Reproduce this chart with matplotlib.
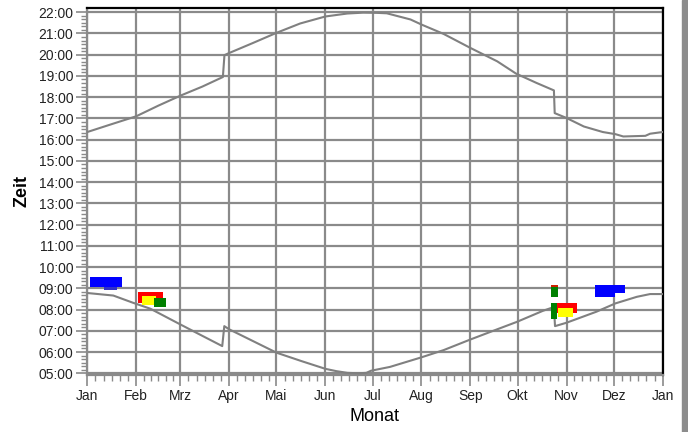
import numpy as np
import matplotlib
matplotlib.use('Agg')
import matplotlib.pyplot as plt
from matplotlib.patches import Rectangle

plt.rcParams['font.family'] = ['Liberation Sans', 'DejaVu Sans']

# month starts (day of year) and labels
month_days = [0, 31, 59, 90, 120, 151, 181, 212, 243, 273, 304, 334, 365]
month_labels = ['Jan', 'Feb', 'Mrz', 'Apr', 'Mai', 'Jun', 'Jul', 'Aug',
                'Sep', 'Okt', 'Nov', 'Dez', 'Jan']
hours = list(range(5, 23))

# sunset (upper curve), hours
sunset_day = [0, 15, 31, 45, 59, 73, 86, 87, 90, 105, 120, 135, 151, 165, 175,
              184, 190, 205, 212, 226, 243, 260, 272, 285, 296, 296.5, 304,
              315, 327, 335, 340, 354, 357, 365]
sunset_time = [16.36, 16.72, 17.10, 17.60, 18.07, 18.50, 18.95, 19.98, 20.08,
               20.55, 21.03, 21.47, 21.80, 21.94, 21.98, 21.97, 21.95, 21.66,
               21.42, 20.98, 20.32, 19.69, 19.11, 18.67, 18.32, 17.25, 17.02,
               16.62, 16.36, 16.26, 16.15, 16.18, 16.28, 16.36]

# sunrise (lower curve), hours
sunrise_day = [0, 16.5, 29, 40, 59, 72, 85.6, 86.9, 90, 105, 120, 136, 151,
               158, 165, 172, 177, 180, 192, 211.5, 226, 243, 260, 272.5, 289,
               296, 296.7, 304, 323, 335, 348.6, 357, 365]
sunrise_time = [8.78, 8.66, 8.32, 8.04, 7.30, 6.80, 6.28, 7.22, 7.07, 6.52,
                5.97, 5.57, 5.21, 5.10, 5.02, 5.00, 5.02, 5.12, 5.30, 5.74,
                6.09, 6.59, 7.07, 7.42, 7.94, 8.12, 7.22, 7.38, 7.90, 8.29,
                8.60, 8.73, 8.73]

# observation blocks: (day start, day end, time bottom, time top, colour)
block_d0 = [1.7, 10.6, 32.4, 34.9, 42.3, 294.0, 294.0, 294.0, 294.0, 298.9, 322.1, 335.0]
block_d1 = [22.1, 19.0, 48.2, 43.4, 49.7, 298.9, 298.9, 310.5, 297.8, 308.4, 335.0, 341.2]
block_t0 = [9.05, 8.91, 8.31, 8.23, 8.10, 9.08, 8.58, 7.85, 7.54, 7.66, 8.58, 8.77]
block_t1 = [9.52, 9.05, 8.83, 8.62, 8.54, 9.16, 9.08, 8.29, 8.29, 8.06, 9.16, 9.16]
block_col = ['#0000ff', '#3030c8', '#ff0000', '#ffff00', '#008000', '#cc2200',
             '#008000', '#ff0000', '#008000', '#ffff00', '#0000ff', '#0000ff']

fig = plt.figure(figsize=(6.88, 4.32), dpi=100)
ax = fig.add_axes([0.1269, 0.132, 0.8363, 0.8495])

grid_col = '#8a8a8a'
ax.set_xlim(0, 365)
ax.set_ylim(4.92, 22.2)
ax.set_xticks(month_days)
ax.set_xticklabels(month_labels, fontsize=10)
ax.set_yticks(hours)
ax.set_yticklabels(['%02d:00' % h for h in hours], fontsize=10)

minor_x = []
for i in range(12):
    step = (month_days[i + 1] - month_days[i]) / 6.0
    minor_x += [month_days[i] + k * step for k in range(1, 6)]
ax.set_xticks(minor_x, minor=True)
ax.set_yticks(np.arange(5, 22.01, 1 / 6.0), minor=True)

ax.tick_params(which='major', direction='out', length=8, width=1.2, color=grid_col)
ax.tick_params(which='minor', direction='out', length=4, width=1.0, color=grid_col)
ax.tick_params(axis='both', pad=2, labelcolor='#222222')

ax.grid(True, which='major', color=grid_col, lw=1.6)
ax.set_axisbelow(True)

for s in ['left', 'bottom']:
    ax.spines[s].set_color(grid_col)
    ax.spines[s].set_linewidth(1.6)
for s in ['top', 'right']:
    ax.spines[s].set_color('black')
    ax.spines[s].set_linewidth(1.6)

ax.plot(sunset_day, sunset_time, color='#808080', lw=1.5, zorder=3)
ax.plot(sunrise_day, sunrise_time, color='#808080', lw=1.5, zorder=3)

for d0, d1, t0, t1, c in zip(block_d0, block_d1, block_t0, block_t1, block_col):
    ax.bar(d0, t1 - t0, width=d1 - d0, bottom=t0, align='edge', color=c,
           edgecolor='none', zorder=4)

ax.set_xlabel('Monat', fontsize=13, labelpad=4)
ax.set_ylabel('Zeit', fontsize=13, fontweight='bold', labelpad=6)

# grey frame bar at the right edge of the picture
fig.patches.append(Rectangle((682 / 688, 0), 6 / 688, 1, transform=fig.transFigure,
                             color='#8c8c8c', zorder=0))

fig.savefig('out.png', dpi=100)
